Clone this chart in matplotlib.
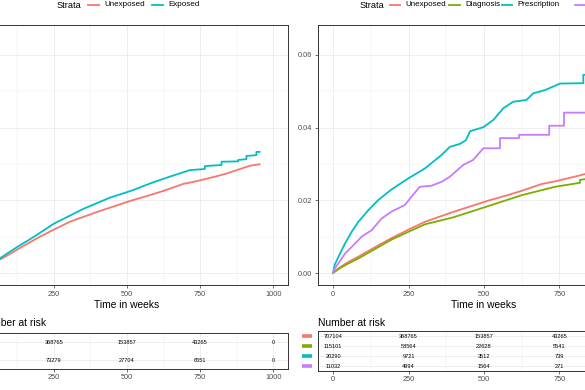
import matplotlib
matplotlib.use("Agg")
import matplotlib.pyplot as plt
from matplotlib.lines import Line2D
import matplotlib.transforms as mtransforms

plt.rcParams['font.family'] = ['Liberation Sans', 'DejaVu Sans']

# ---------------- data ----------------
strata_left = ["Unexposed", "Exposed"]
strata_right = ["Unexposed", "Diagnosis", "Prescription", "Both"]
colors_left = ["#F8766D", "#00BFC4"]
colors_right = ["#F8766D", "#7CAE00", "#00BFC4", "#C77CFF"]

time_unexp = [0, 10, 25, 50, 84, 139, 194, 249, 305, 398, 514, 578, 625, 692, 735, 806, 834, 920, 953]
cif_unexp = [0, 0.0008, 0.0017, 0.0030, 0.0045, 0.0071, 0.0096, 0.0119, 0.0141, 0.0168, 0.0199,
             0.0214, 0.0226, 0.0245, 0.0252, 0.0266, 0.0272, 0.0295, 0.0299]

time_exp = [0, 20, 65, 122, 179, 251, 350, 441, 521, 578, 646, 715, 766, 766, 823, 823, 880, 880,
            908, 908, 942, 942, 953]
cif_exp = [0, 0.0014, 0.0040, 0.0070, 0.0098, 0.0136, 0.0176, 0.0207, 0.0228, 0.0246, 0.0265,
           0.0283, 0.0286, 0.0294, 0.0297, 0.0306, 0.0307, 0.0311, 0.0313, 0.0322, 0.0324, 0.0333, 0.0333]

time_diag = [0, 20, 50, 84, 139, 194, 249, 305, 398, 514, 625, 735, 818, 818, 834, 850]
cif_diag = [0, 0.0012, 0.0026, 0.0040, 0.0066, 0.0092, 0.0113, 0.0134, 0.0153, 0.0184, 0.0214,
            0.0237, 0.0248, 0.0256, 0.0258, 0.0260]

time_presc = [0, 5, 18, 40, 62, 84, 117, 150, 194, 249, 305, 360, 387, 420, 440, 454, 498, 531,
              564, 597, 641, 663, 702, 752, 829, 829, 850]
cif_presc = [0, 0.0022, 0.0045, 0.0082, 0.0114, 0.0141, 0.0173, 0.0201, 0.0230, 0.0260, 0.0288,
             0.0325, 0.0347, 0.0355, 0.0365, 0.0390, 0.0401, 0.0421, 0.0453, 0.0471, 0.0476,
             0.0494, 0.0503, 0.0521, 0.0522, 0.0545, 0.0545]

time_both = [0, 5, 18, 40, 62, 95, 128, 161, 194, 238, 260, 287, 326, 360, 387, 431, 464, 498,
             553, 553, 616, 616, 716, 716, 765, 765, 850]
cif_both = [0, 0.0012, 0.0027, 0.0054, 0.0072, 0.0100, 0.0118, 0.0150, 0.0169, 0.0187, 0.0210,
            0.0237, 0.0240, 0.0251, 0.0265, 0.0297, 0.0311, 0.0343, 0.0343, 0.0371, 0.0371,
            0.0380, 0.0380, 0.0405, 0.0405, 0.0441, 0.0441]

risk_times = [0, 250, 500, 750, 1000]
risk_unexp = [707104, 368765, 153857, 43265, 0]
risk_exp = [146423, 73279, 27704, 6551, 0]
risk_diag = [115101, 58564, 22628, 5541, 0]
risk_presc = [20290, 9721, 3512, 739, 0]
risk_both = [11032, 4994, 1564, 271, 0]

x_ticks = [0, 250, 500, 750, 1000]
x_minor = [125, 375, 625, 875]
y_ticks = [0.00, 0.02, 0.04, 0.06]
y_minor = [0.01, 0.03, 0.05]
y_ticklabels = ["0.00", "0.02", "0.04", "0.06"]

# ---------------- layout ----------------
W, H = 585, 390
fig = plt.figure(figsize=(W / 100, H / 100), dpi=100)

def px_axes(left, top, right, bottom):
    return fig.add_axes([left / W, 1 - bottom / H, (right - left) / W, (bottom - top) / H])

GRID = "#EBEBEB"
BORDER = "#333333"
TICKC = "#4D4D4D"

def style_main(ax, show_ylabels=True):
    ax.set_xlim(-50, 1050)
    ax.set_ylim(-0.0033, 0.0682)
    ax.set_xticks(x_ticks)
    ax.set_xticks(x_minor, minor=True)
    ax.set_yticks(y_ticks)
    ax.set_yticks(y_minor, minor=True)
    ax.set_yticklabels(y_ticklabels if show_ylabels else [])
    ax.grid(which="major", color=GRID, lw=0.6)
    ax.grid(which="minor", color=GRID, lw=0.35)
    ax.set_axisbelow(True)
    for s in ax.spines.values():
        s.set_color(BORDER)
        s.set_linewidth(0.7)
    ax.tick_params(which="major", length=2.5, width=0.5, color=BORDER, labelsize=5.3,
                   labelcolor=TICKC, pad=1.5)
    ax.tick_params(which="minor", length=0)
    ax.set_xlabel("Time in weeks", fontsize=7.4, labelpad=1.5)

# left panel is cropped on its left side (its y axis lies outside the picture)
axL = px_axes(-34, 25, 288, 285)
axR = px_axes(318, 25, 650, 285)

style_main(axL, show_ylabels=False)
style_main(axR)

LW = 1.3
axL.plot(time_unexp, cif_unexp, color=colors_left[0], lw=LW)
axL.plot(time_exp, cif_exp, color=colors_left[1], lw=LW)

axR.plot(time_unexp, cif_unexp, color=colors_right[0], lw=LW)
axR.plot(time_diag, cif_diag, color=colors_right[1], lw=LW)
axR.plot(time_presc, cif_presc, color=colors_right[2], lw=LW)
axR.plot(time_both, cif_both, color=colors_right[3], lw=LW)

# ---------------- legends (top) ----------------
def fig_text(x, y, s, **kw):
    fig.text(x / W, 1 - y / H, s, **kw)

def fig_line(x0, x1, y, color, lw=1.3):
    fig.add_artist(Line2D([x0 / W, x1 / W], [1 - y / H, 1 - y / H], color=color, lw=lw,
                          transform=fig.transFigure))

LY = 5
fig_text(57, LY, "Strata", fontsize=6.6, ha="left", va="center")
fig_line(88, 99, LY, colors_left[0])
fig_text(104.5, LY, strata_left[0], fontsize=5.8, ha="left", va="center")
fig_line(152, 163, LY, colors_left[1])
fig_text(168, LY, strata_left[1], fontsize=5.8, ha="left", va="center")

fig_text(359.5, LY, "Strata", fontsize=6.6, ha="left", va="center")
leg_x = [(390, 400, 405), (449, 460, 465.5), (502, 512, 517.5), (575, 586, 591)]
for (x0, x1, xt), c, lab in zip(leg_x, colors_right, strata_right):
    fig_line(x0, x1, LY, c)
    fig_text(xt, LY, lab, fontsize=5.8, ha="left", va="center")

# ---------------- risk tables ----------------
def style_table(ax, n):
    ax.set_xlim(-50, 1050)
    ax.set_ylim(0.5, n + 0.5)
    ax.set_xticks(x_ticks)
    ax.set_xticks(x_minor, minor=True)
    ax.set_yticks(list(range(1, n + 1)))
    ax.set_yticklabels([])
    ax.grid(which="major", color=GRID, lw=0.6)
    ax.grid(which="minor", axis="x", color=GRID, lw=0.35)
    ax.set_axisbelow(True)
    for s in ax.spines.values():
        s.set_color(BORDER)
        s.set_linewidth(0.7)
    ax.tick_params(axis="x", which="major", length=2.5, width=0.5, color=BORDER, labelsize=5.3,
                   labelcolor=TICKC, pad=1.2)
    ax.tick_params(axis="y", length=0)
    ax.tick_params(which="minor", length=0)

tL = px_axes(-34, 333, 288, 369)
tR = px_axes(318, 331, 650, 371)
style_table(tL, 2)
style_table(tR, 4)

rows_left = [risk_unexp, risk_exp]
rows_right = [risk_unexp, risk_diag, risk_presc, risk_both]

for ax, rows, cols in [(tL, rows_left, colors_left), (tR, rows_right, colors_right)]:
    n = len(rows)
    trans = mtransforms.blended_transform_factory(ax.transAxes, ax.transData)
    for i, (vals, c) in enumerate(zip(rows, cols)):
        y = n - i
        for t, v in zip(risk_times, vals):
            ax.text(t, y, str(v), fontsize=4.1, ha="center", va="center", color="black")
        ax.plot([-0.049, -0.018], [y, y], color=c, lw=2.6, transform=trans, clip_on=False,
                solid_capstyle="butt")

fig_text(-21, 323, "Number at risk", fontsize=7.4, ha="left", va="center")
fig_text(318, 323, "Number at risk", fontsize=7.4, ha="left", va="center")

fig.savefig("out.png", dpi=100)
